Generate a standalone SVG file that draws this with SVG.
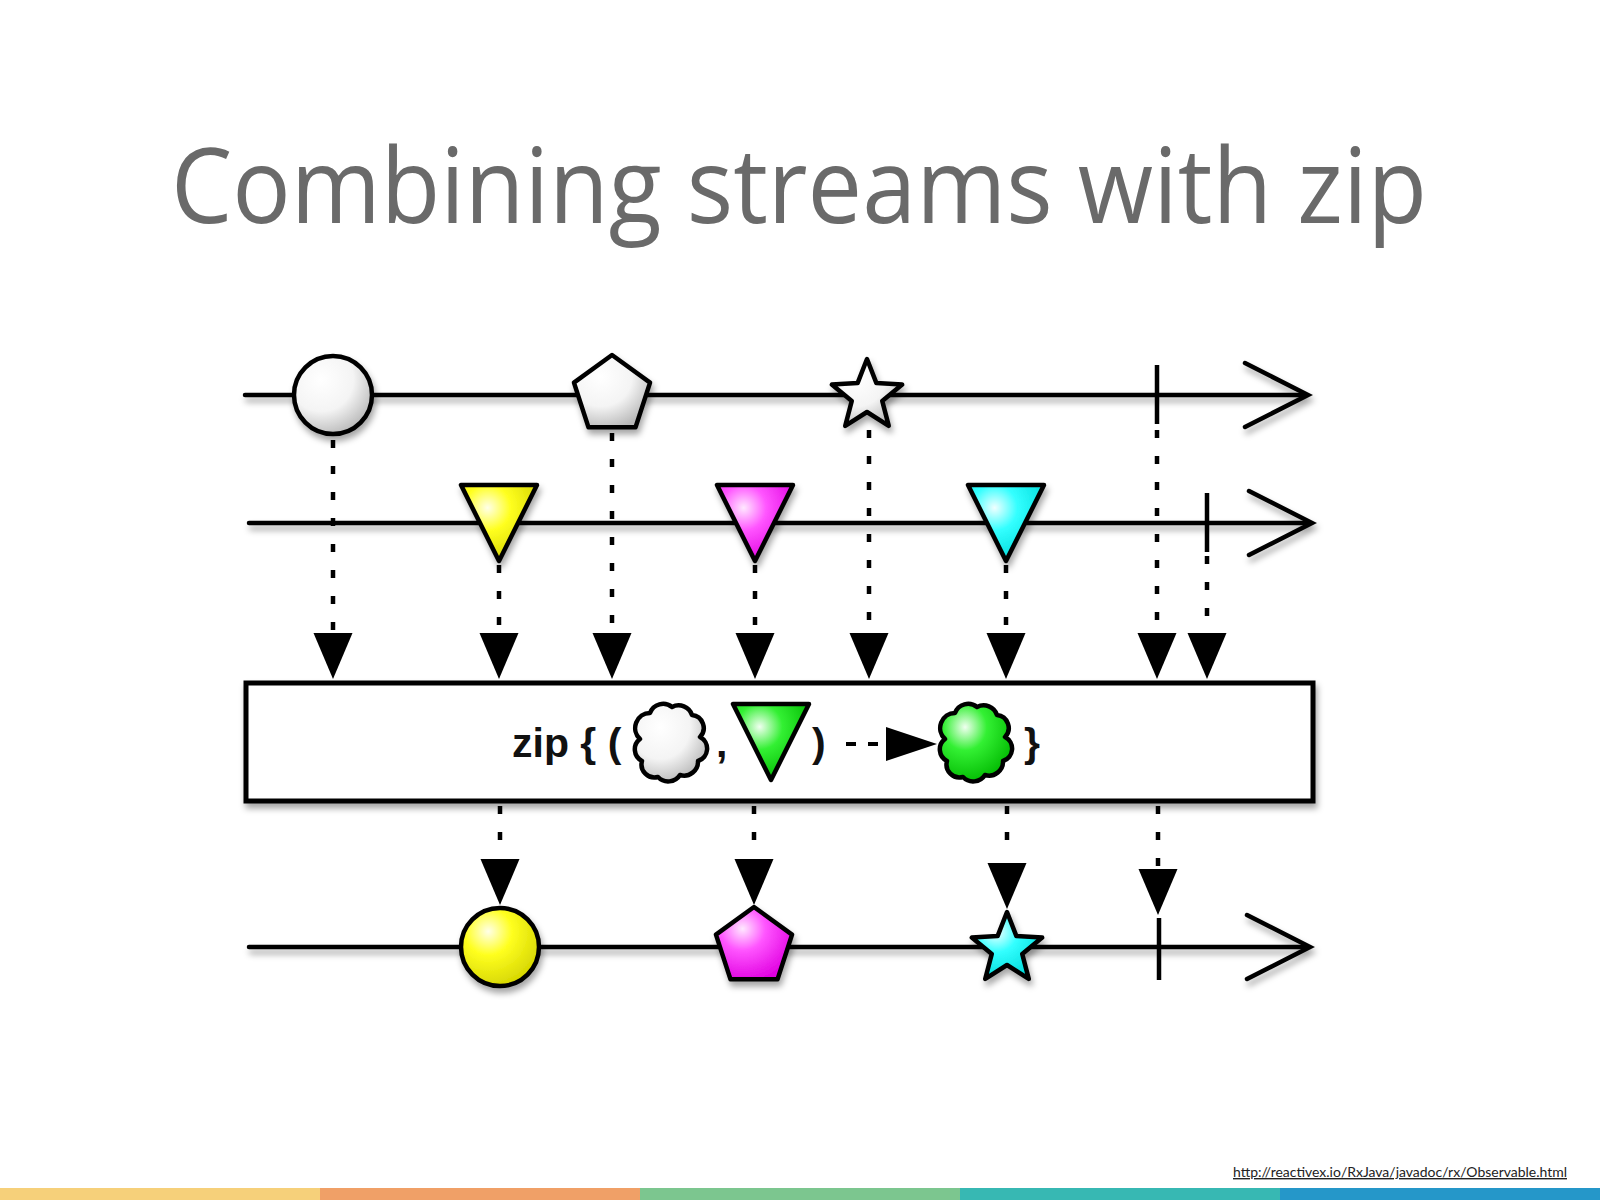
<svg xmlns="http://www.w3.org/2000/svg" width="1600" height="1200" viewBox="0 0 1600 1200">
<style>
.ln{stroke:#000;stroke-width:4.5;fill:none;stroke-linecap:round}
.chev{stroke:#000;stroke-width:4.5;fill:none;stroke-linecap:round;stroke-linejoin:miter}
.tick{stroke:#000;stroke-width:4.5;fill:none}
.shp{stroke:#000;stroke-width:4.5;stroke-linejoin:round}
.dot{stroke:#000;stroke-width:4.5;fill:none;stroke-dasharray:8 18}
.ah{fill:#000}
.bt{font-family:"Liberation Sans",Arial,sans-serif;font-weight:bold;font-size:41px;fill:#111}
</style>
<defs>
<filter id="sh" x="-30%" y="-30%" width="160%" height="170%">
<feDropShadow dx="2" dy="5" stdDeviation="3" flood-color="#000" flood-opacity="0.35"/>
</filter>
<radialGradient id="gW" cx="0.35" cy="0.3" r="0.75"><stop offset="0" stop-color="#fff"/><stop offset="0.55" stop-color="#f4f4f4"/><stop offset="1" stop-color="#b8b8b8"/></radialGradient>
<radialGradient id="gY" cx="0.35" cy="0.3" r="0.75"><stop offset="0" stop-color="#ffffe8"/><stop offset="0.4" stop-color="#ffff20"/><stop offset="1" stop-color="#d4d400"/></radialGradient>
<radialGradient id="gM" cx="0.35" cy="0.3" r="0.75"><stop offset="0" stop-color="#ffe8ff"/><stop offset="0.4" stop-color="#ff55ff"/><stop offset="1" stop-color="#e000e0"/></radialGradient>
<radialGradient id="gC" cx="0.35" cy="0.3" r="0.75"><stop offset="0" stop-color="#f0ffff"/><stop offset="0.4" stop-color="#33ffff"/><stop offset="1" stop-color="#00dada"/></radialGradient>
<radialGradient id="gG" cx="0.35" cy="0.3" r="0.75"><stop offset="0" stop-color="#f0fff0"/><stop offset="0.4" stop-color="#33f033"/><stop offset="1" stop-color="#00b800"/></radialGradient>
<polygon id="pent" points="0,-40 38.04,-12.36 23.51,32.36 -23.51,32.36 -38.04,-12.36"/>
<polygon id="star" points="0,-37 9.4,-12.94 35.19,-11.43 15.22,4.94 21.75,29.93 0,16 -21.75,29.93 -15.22,4.94 -35.19,-11.43 -9.4,-12.94"/>
<polygon id="tri" points="-38,-38 38,-38 0,38"/>
<path id="cloud" d="M -20,-30 a 14 14 0 0 1 22,-6 a 14 14 0 0 1 20,8 a 13 13 0 0 1 8,22 a 13 13 0 0 1 -2,24 a 14 14 0 0 1 -18,14 a 14 14 0 0 1 -22,2 a 13 13 0 0 1 -16,-16 a 13 13 0 0 1 -2,-22 a 15 15 0 0 1 10,-26 z"/>
<polygon id="arr" points="-19.5,0 19.5,0 0,46"/>
</defs>
<rect width="1600" height="1200" fill="#fff"/>
<text id="title" x="171" y="223" font-family="'Open Sans','Noto Sans',sans-serif" font-weight="400" font-size="104" fill="#6a6a6a" textLength="1256" lengthAdjust="spacingAndGlyphs">Combining streams with zip</text>

<!-- connectors -->
<g id="connectors">
<g filter="url(#sh)">
<line class="ln" x1="245" y1="395" x2="1306" y2="395"/>
<polyline class="chev" points="1245,363 1308,395 1245,427"/>
<line class="ln" x1="249" y1="523" x2="1310" y2="523"/>
<polyline class="chev" points="1249,491 1312,523 1249,555"/>
<line class="ln" x1="249" y1="947" x2="1308" y2="947"/>
<polyline class="chev" points="1247,915 1310,947 1247,979"/>
</g>
<line class="dot" x1="333" y1="440" x2="333" y2="633"/>
<line class="dot" x1="499" y1="565" x2="499" y2="633"/>
<line class="dot" x1="612" y1="433" x2="612" y2="633"/>
<line class="dot" x1="755" y1="565" x2="755" y2="633"/>
<line class="dot" x1="869" y1="430" x2="869" y2="633"/>
<line class="dot" x1="1006" y1="565" x2="1006" y2="633"/>
<line class="dot" x1="1157" y1="430" x2="1157" y2="633"/>
<line class="dot" x1="1207" y1="556" x2="1207" y2="633"/>
<g class="ah">
<use href="#arr" x="333" y="633"/>
<use href="#arr" x="499" y="633"/>
<use href="#arr" x="612" y="633"/>
<use href="#arr" x="755" y="633"/>
<use href="#arr" x="869" y="633"/>
<use href="#arr" x="1006" y="633"/>
<use href="#arr" x="1157" y="633"/>
<use href="#arr" x="1207" y="633"/>
</g>
<line class="dot" x1="500" y1="806" x2="500" y2="857"/>
<line class="dot" x1="754" y1="806" x2="754" y2="857"/>
<line class="dot" x1="1007" y1="806" x2="1007" y2="857"/>
<line class="dot" x1="1158" y1="806" x2="1158" y2="869"/>
<g class="ah">
<use href="#arr" x="500" y="859"/>
<use href="#arr" x="754" y="859"/>
<use href="#arr" x="1007" y="863"/>
<use href="#arr" x="1158" y="869"/>
</g>
</g>

<!-- top stream -->
<g id="n-circle-white" filter="url(#sh)"><circle class="shp" cx="333" cy="395" r="39" fill="url(#gW)"/></g>
<g id="n-pent-white" filter="url(#sh)"><use class="shp" href="#pent" x="612" y="395" fill="url(#gW)"/></g>
<g id="n-star-white" filter="url(#sh)"><use class="shp" href="#star" x="867" y="396" fill="url(#gW)"/></g>
<g id="n-tick1"><line class="tick" x1="1157" y1="365" x2="1157" y2="424"/></g>

<!-- second stream -->
<g id="n-tri-yellow" filter="url(#sh)"><use class="shp" href="#tri" x="499" y="523" fill="url(#gY)"/></g>
<g id="n-tri-magenta" filter="url(#sh)"><use class="shp" href="#tri" x="755" y="523" fill="url(#gM)"/></g>
<g id="n-tri-cyan" filter="url(#sh)"><use class="shp" href="#tri" x="1006" y="523" fill="url(#gC)"/></g>
<g id="n-tick2"><line class="tick" x1="1207" y1="493" x2="1207" y2="552"/></g>

<!-- zip box -->
<g id="n-zip">
<rect x="246" y="683" width="1067" height="118" fill="#fff" stroke="#000" stroke-width="5" filter="url(#sh)"/>
<text class="bt" x="512" y="757">zip { (</text>
<use class="shp" href="#cloud" x="670" y="743" fill="url(#gW)"/>
<text class="bt" x="716" y="757">,</text>
<use class="shp" href="#tri" x="771" y="742" fill="url(#gG)"/>
<text class="bt" x="812" y="757">)</text>
<line x1="846" y1="744" x2="856" y2="744" stroke="#000" stroke-width="4"/>
<line x1="868" y1="744" x2="878" y2="744" stroke="#000" stroke-width="4"/>
<polygon points="886,727 937,744 886,761" fill="#000"/>
<use class="shp" href="#cloud" x="975" y="743" fill="url(#gG)"/>
<text class="bt" x="1024" y="757">}</text>
</g>

<!-- output stream -->
<g id="n-circle-yellow" filter="url(#sh)"><circle class="shp" cx="500" cy="947" r="39" fill="url(#gY)"/></g>
<g id="n-pent-magenta" filter="url(#sh)"><use class="shp" href="#pent" x="754" y="947" fill="url(#gM)"/></g>
<g id="n-star-cyan" filter="url(#sh)"><use class="shp" href="#star" x="1007" y="949" fill="url(#gC)"/></g>
<g id="n-tick3"><line class="tick" x1="1159" y1="918" x2="1159" y2="980"/></g>

<text id="url" x="1233" y="1177" font-family="Lato,'Liberation Sans',sans-serif" font-size="14" fill="#222" text-decoration="underline" textLength="334" lengthAdjust="spacingAndGlyphs">http://reactivex.io/RxJava/javadoc/rx/Observable.html</text>

<g id="bar">
<rect x="0" y="1188" width="320" height="12" fill="#f6d07a"/>
<rect x="320" y="1188" width="320" height="12" fill="#f0a067"/>
<rect x="640" y="1188" width="320" height="12" fill="#7cc68f"/>
<rect x="960" y="1188" width="320" height="12" fill="#37b8b3"/>
<rect x="1280" y="1188" width="320" height="12" fill="#2597c9"/>
</g>
</svg>
